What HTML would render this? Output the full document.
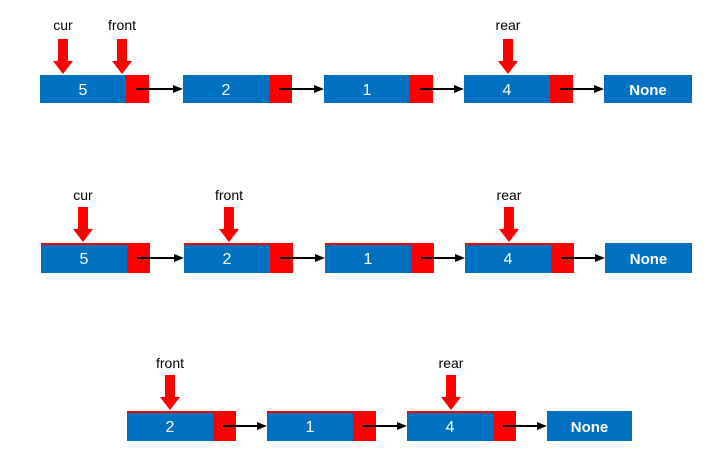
<!DOCTYPE html>
<html><head><meta charset="utf-8"><style>
html,body{margin:0;padding:0;background:#fff;}
svg text{font-family:"Liberation Sans",sans-serif;}
</style></head><body>
<svg id="c" width="709" height="471" xmlns="http://www.w3.org/2000/svg"></svg>
<script>
const rows = [
  {y:75, h:28, nodes:[{x:40,v:'5'},{x:183,v:'2'},{x:324,v:'1'},{x:464,v:'4'}], none:604, noneW:88, topLine:false,
   ptrs:[{x:63,l:'cur'},{x:122,l:'front'},{x:508,l:'rear'}], ly:30},
  {y:243, h:30, nodes:[{x:41,v:'5'},{x:184,v:'2'},{x:325,v:'1'},{x:465,v:'4'}], none:605, noneW:87, topLine:true,
   ptrs:[{x:83,l:'cur'},{x:229,l:'front'},{x:509,l:'rear'}], ly:200},
  {y:411, h:30, nodes:[{x:127,v:'2'},{x:267,v:'1'},{x:407,v:'4'}], none:547, noneW:85, topLine:true,
   ptrs:[{x:170,l:'front'},{x:451,l:'rear'}], ly:368}
];
const svg = document.getElementById('c');
const NS = 'http://www.w3.org/2000/svg';
function mk(tag, attrs, parent){const e=document.createElementNS(NS,tag);for(const k in attrs)e.setAttribute(k,attrs[k]);(parent||svg).appendChild(e);return e;}
rows.forEach((r,ri)=>{
  const g = mk('g',{});
  
  
  r.nodes.forEach((n,i)=>{
    const ng = mk('g',{},g);
    
    
    mk('rect',{x:n.x,y:r.y,width:86,height:r.h,fill:'#0070c0'},ng);
    mk('rect',{x:n.x+86,y:r.y,width:23,height:r.h,fill:'#ff0000'},ng);
    if(r.topLine) mk('rect',{x:n.x,y:r.y,width:86,height:2,fill:'#ff0000'},ng);
    const t = mk('text',{x:n.x+43,y:r.y+r.h/2+6,'text-anchor':'middle',fill:'#fff','font-size':16},ng);
    t.textContent=n.v;
    const nx = (i+1<r.nodes.length)? r.nodes[i+1].x : r.none;
    const a = mk('g',{},g);
    
    
    const ay = r.y+r.h/2;
    mk('line',{x1:n.x+96,y1:ay,x2:nx-8,y2:ay,stroke:'#000','stroke-width':2},a);
    mk('polygon',{points:`${nx},${ay} ${nx-10},${ay-4} ${nx-10},${ay+4}`,fill:'#000'},a);
  });
  const ng = mk('g',{},g);
  
  
  mk('rect',{x:r.none,y:r.y,width:r.noneW,height:r.h,fill:'#0070c0'},ng);
  const t = mk('text',{x:r.none+r.noneW/2,y:r.y+r.h/2+6,'text-anchor':'middle',fill:'#fff','font-size':15,'font-weight':'bold'},ng);
  t.textContent='None';
  r.ptrs.forEach(p=>{
    const pg = mk('g',{},g);
    
    
    const lt = mk('text',{x:p.x,y:r.ly,'text-anchor':'middle',fill:'#000','font-size':14},pg);
    lt.textContent=p.l;
    const top=r.y-36, bot=r.y-1;
    mk('polygon',{points:`${p.x-5},${top} ${p.x+5},${top} ${p.x+5},${bot-13} ${p.x+10},${bot-13} ${p.x},${bot} ${p.x-10},${bot-13} ${p.x-5},${bot-13}`,fill:'#ff0000'},pg);
  });
});
</script>
</body></html>
